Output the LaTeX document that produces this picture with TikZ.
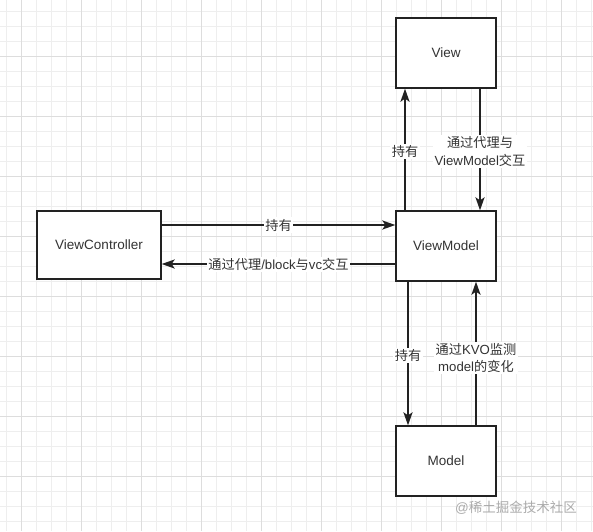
\documentclass[tikz,border=0pt]{standalone}
\usepackage{fontspec}
\setmainfont{Liberation Sans}
\newfontfamily\cjk{Noto Sans CJK SC}
\usetikzlibrary{arrows.meta}
\definecolor{txt}{HTML}{333333}
\definecolor{ln}{HTML}{222222}
\definecolor{gminor}{HTML}{EEEEEE}
\definecolor{gmajor}{HTML}{DDDDDD}
\definecolor{wm}{HTML}{ABABAB}
\tikzset{
  box/.style={draw=ln, line width=2.3pt, fill=white, minimum width=100pt, minimum height=70pt, inner sep=0pt, text=txt, font=\fontsize{13.5}{15}\selectfont},
  arr/.style={draw=ln, line width=2pt, -{Stealth[length=13pt,width=9pt,inset=3pt]}, shorten >=-0.5pt},
  lbl/.style={fill=white, inner sep=1.5pt, text=txt, align=center, font=\fontsize{13.2}{17.5}\selectfont},
  gridminor/.style={draw=gminor, line width=0.9pt},
  gridmajor/.style={draw=gmajor, line width=0.9pt}
}
\begin{document}
\begin{tikzpicture}[x=1pt,y=-1pt]
\useasboundingbox (0,0) rectangle (593,531);
\fill[white] (0,0) rectangle (593,531);
\foreach \i in {0,...,39} \draw[gridminor] ({6.7+15*\i},0) -- ({6.7+15*\i},531);
\foreach \i in {0,...,35} \draw[gridminor] (0,{11.7+15*\i}) -- (593,{11.7+15*\i});
\foreach \i in {0,...,9} \draw[gridmajor] ({21.7+60*\i},0) -- ({21.7+60*\i},531);
\foreach \i in {0,...,8} \draw[gridmajor] (0,{56.7+60*\i}) -- (593,{56.7+60*\i});

\node[box] (view) at (446,53) {View};
\node[box] (vm) at (446,246) {ViewModel};
\node[box, minimum width=124pt, minimum height=68pt] (vc) at (99,245) {ViewController};
\node[box] (model) at (446,461) {Model};

\draw[arr] ([xshift=-41pt]vm.north) -- node[lbl, yshift=-2pt]{\cjk 持有} ([xshift=-41pt]view.south);
\draw[arr] ([xshift=34pt]view.south) -- node[lbl, yshift=-2pt]{{\cjk 通过代理与}\\ViewModel{\cjk 交互}} ([xshift=34pt]vm.north);
\draw[arr] ([yshift=20pt]vc.east) -- node[lbl]{\cjk 持有} ([yshift=20pt]vc.east -| vm.west);
\draw[arr] ([yshift=-18pt]vm.west) -- node[lbl, yshift=-0.5pt]{{\cjk 通过代理}/block{\cjk 与}vc{\cjk 交互}} ([yshift=-18pt]vm.west -| vc.east);
\draw[arr] ([xshift=-38pt]vm.south) -- node[lbl, yshift=-2pt]{\cjk 持有} ([xshift=-38pt]model.north);
\draw[arr] ([xshift=30pt]model.north) -- node[lbl, yshift=-4.5pt]{{\cjk 通过}KVO{\cjk 监测}\\model{\cjk 的变化}} ([xshift=30pt]vm.south);

\node[text=wm, font=\fontsize{13.5}{15}\selectfont, anchor=east, inner sep=0pt] (wmark) at (577,508) {@{\cjk 稀土掘金技术社区}};
\end{tikzpicture}
\end{document}
